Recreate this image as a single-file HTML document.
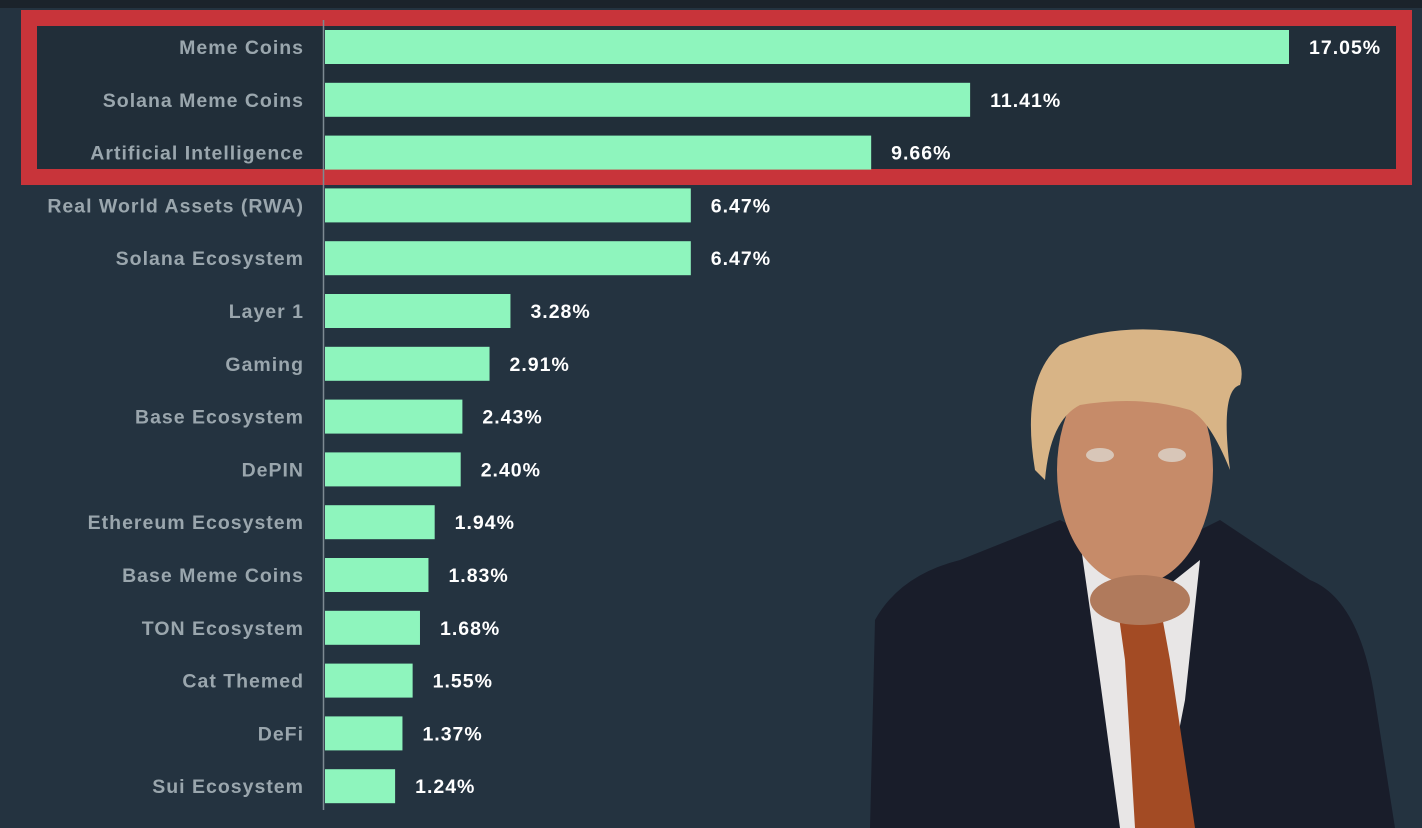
<!DOCTYPE html>
<html><head><meta charset="utf-8"><style>
html,body{margin:0;padding:0;}
body{width:1422px;height:828px;background:#243340;overflow:hidden;position:relative;font-family:"Liberation Sans",Arial,sans-serif;}
svg{position:absolute;left:0;top:0;}
</style></head><body>
<svg width="1422" height="828">
<rect x="0" y="0" width="1422" height="8" fill="#1b232b"/>
<rect x="29" y="18" width="1375" height="159" fill="#212e39" stroke="#c8343a" stroke-width="16"/>
<g id="bars"></g>
<line x1="323.5" y1="20" x2="323.5" y2="810" stroke="#7d8a92" stroke-width="1.5"/>
<g>
 <path d="M870,828 L875,620 Q900,575 960,560 L1060,520 L1140,560 L1220,520 L1310,580 Q1360,600 1375,700 L1395,828 Z" fill="#191d2a"/>
 <path d="M1080,540 L1150,600 L1200,560 L1185,700 L1160,828 L1120,828 L1100,680 Z" fill="#e8e6e6"/>
 <path d="M1118,610 L1160,605 L1170,660 L1195,828 L1135,828 L1125,660 Z" fill="#a34b24"/>
 <ellipse cx="1135" cy="470" rx="78" ry="115" fill="#c68b69"/>
 <ellipse cx="1140" cy="600" rx="50" ry="25" fill="#b07a5c"/>
 <path d="M1035,470 Q1020,380 1060,345 Q1120,320 1200,335 Q1250,350 1240,385 Q1220,390 1230,470 Q1210,420 1190,410 Q1140,395 1080,405 Q1050,420 1045,480 Z" fill="#d8b486"/>
 <ellipse cx="1100" cy="455" rx="14" ry="7" fill="#d8c6b8"/>
 <ellipse cx="1172" cy="455" rx="14" ry="7" fill="#d8c6b8"/>
</g>
</svg>
<script>
const categories=["Meme Coins","Solana Meme Coins","Artificial Intelligence","Real World Assets (RWA)","Solana Ecosystem","Layer 1","Gaming","Base Ecosystem","DePIN","Ethereum Ecosystem","Base Meme Coins","TON Ecosystem","Cat Themed","DeFi","Sui Ecosystem"];
const values=[17.05,11.41,9.66,6.47,6.47,3.28,2.91,2.43,2.40,1.94,1.83,1.68,1.55,1.37,1.24];
const valueLabels=["17.05%","11.41%","9.66%","6.47%","6.47%","3.28%","2.91%","2.43%","2.40%","1.94%","1.83%","1.68%","1.55%","1.37%","1.24%"];
const NS="http://www.w3.org/2000/svg";
const x0=325,pxPer=(1289-325)/17.05;
function xScale(v){return x0+v*pxPer;}
function yCenter(i){return 47+i*52.8;}
const g=document.getElementById('bars');
categories.forEach((c,i)=>{
 const cy=yCenter(i);
 const r=document.createElementNS(NS,'rect');
 r.setAttribute('x',x0);r.setAttribute('y',cy-17);
 r.setAttribute('width',xScale(values[i])-x0);r.setAttribute('height',34);
 r.setAttribute('fill','#8ef5bd');
 
 
 g.appendChild(r);
 const t=document.createElementNS(NS,'text');
 t.setAttribute('x',304);t.setAttribute('y',cy+7);
 t.setAttribute('text-anchor','end');t.setAttribute('fill','#9aa6ad');
 t.setAttribute('font-size','19.5');t.setAttribute('font-weight','bold');
 t.setAttribute('letter-spacing','1');
 t.textContent=c;
 
 
 g.appendChild(t);
 const v=document.createElementNS(NS,'text');
 v.setAttribute('x',xScale(values[i])+20);v.setAttribute('y',cy+7);
 v.setAttribute('fill','#ffffff');
 v.setAttribute('font-size','19.5');v.setAttribute('font-weight','bold');
 v.setAttribute('letter-spacing','1');
 v.textContent=valueLabels[i];
 
 
 g.appendChild(v);
});
</script>
</body></html>
